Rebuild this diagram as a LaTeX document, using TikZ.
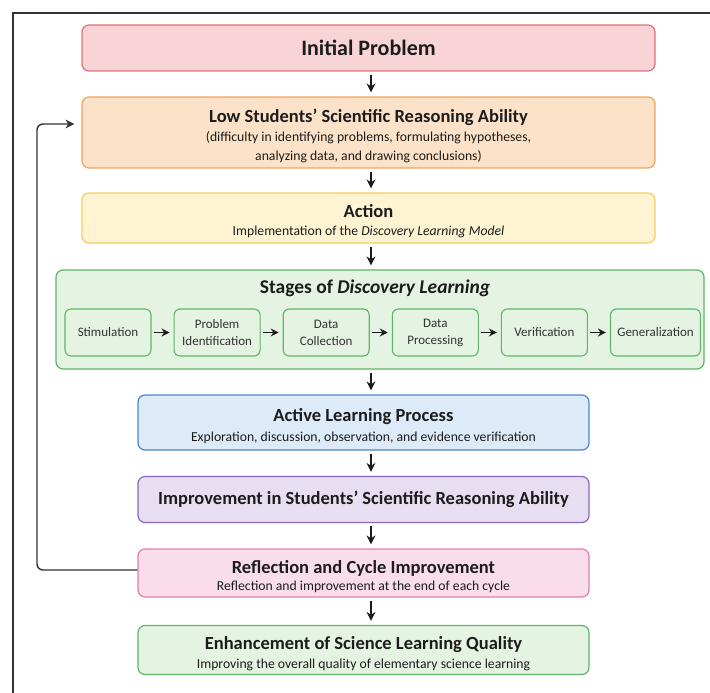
\documentclass[tikz,border=0pt]{standalone}
\usepackage{fontspec}
\setmainfont{Carlito}
\usetikzlibrary{arrows.meta, positioning}

\definecolor{inkdark}{HTML}{1C1C1C}
\definecolor{inksub}{HTML}{333333}
\definecolor{framegray}{HTML}{333333}
\definecolor{redfill}{HTML}{F9D4D7}
\definecolor{redline}{HTML}{E4707A}
\definecolor{orangefill}{HTML}{FCE2C8}
\definecolor{orangeline}{HTML}{F0A45C}
\definecolor{yellowfill}{HTML}{FEF4D2}
\definecolor{yellowline}{HTML}{F4CE5F}
\definecolor{greenfill}{HTML}{E5F3E2}
\definecolor{greenline}{HTML}{5FB666}
\definecolor{bluefill}{HTML}{DDEAF7}
\definecolor{blueline}{HTML}{4C86CB}
\definecolor{purplefill}{HTML}{E7DFF1}
\definecolor{purpleline}{HTML}{8967BF}
\definecolor{pinkfill}{HTML}{F9DDEB}
\definecolor{pinkline}{HTML}{E07EB0}

\newcommand{\boxtitle}{\fontsize{18.5}{18}\selectfont\bfseries\rule{0pt}{20pt}}
\newcommand{\boxsub}{\fontsize{13.7}{18}\selectfont\mdseries}
\newcommand{\stagetext}{\fontsize{13}{17}\selectfont}

\begin{document}
\begin{tikzpicture}[x=1pt, y=-1pt,
  box/.style={draw, rounded corners=7pt, line width=1.2pt, align=center,
    inner sep=0pt, text=inkdark, font=\fontsize{13.7}{18}\selectfont},
  stagebox/.style={draw=greenline, fill=greenfill, rounded corners=6pt,
    line width=1.1pt, align=center, inner sep=0pt, minimum width=86pt,
    minimum height=47pt, text=inksub, font=\stagetext},
  arr/.style={-{Stealth[length=9pt, width=9pt]}, line width=1.4pt,
    draw=inkdark, shorten <=3pt, shorten >=4pt},
  stagearr/.style={-{Stealth[length=8pt, width=8pt]}, line width=1.5pt,
    draw=inkdark, shorten <=2pt, shorten >=4pt}]

% Page and frame
\useasboundingbox[fill=white] (0,0) rectangle (710,693);
\draw[framegray, line width=1.5pt] (13,693) |- (710,13);

% Upper boxes
\node[box, fill=redfill, draw=redline, minimum width=573pt, minimum height=46pt]
  (init) at (368.5,48) {\fontsize{22}{24}\selectfont\bfseries Initial Problem};
\node[box, fill=orangefill, draw=orangeline, minimum width=573pt, minimum height=71pt]
  (low) at (368.5,132.5)
  {\boxtitle Low Students' Scientific Reasoning Ability\\[1pt]
   \boxsub (difficulty in identifying problems, formulating hypotheses,\\[1pt]
   \boxsub analyzing data, and drawing conclusions)};
\node[box, fill=yellowfill, draw=yellowline, minimum width=573pt, minimum height=50pt]
  (action) at (368.5,218)
  {\boxtitle Action\\
   \boxsub Implementation of the \textit{Discovery Learning Model}};

% Stages of Discovery Learning
\node[box, fill=greenfill, draw=greenline, minimum width=648pt, minimum height=99pt]
  (stages) at (380,319.5) {};
\node[text=inkdark, font=\fontsize{19.5}{22}\selectfont\bfseries] (stagestitle)
  at (375,288) {Stages of \textit{Discovery Learning}};
\node[stagebox] (stim) at (108,332.5) {Stimulation};
\node[stagebox, right=22pt of stim] (ident) {Problem\\Identification};
\node[stagebox, right=22pt of ident] (collect) {Data\\Collection};
\node[stagebox, right=22pt of collect] (process) {Data\\Processing};
\node[stagebox, right=22pt of process] (verif) {Verification};
\node[stagebox, minimum width=90pt, right=22pt of verif] (general) {Generalization};
\draw[stagearr] (stim) -- (ident);
\draw[stagearr] (ident) -- (collect);
\draw[stagearr] (collect) -- (process);
\draw[stagearr] (process) -- (verif);
\draw[stagearr] (verif) -- (general);

% Lower boxes
\node[box, fill=bluefill, draw=blueline, minimum width=451pt, minimum height=55pt]
  (active) at (363.5,422.5)
  {\boxtitle Active Learning Process\\[2pt]
   \boxsub Exploration, discussion, observation, and evidence verification};
\node[box, fill=purplefill, draw=purpleline, minimum width=451pt, minimum height=46pt]
  (improve) at (363.5,499.5)
  {\fontsize{18.5}{18}\selectfont\bfseries
   Improvement in Students' Scientific Reasoning Ability};
\node[box, fill=pinkfill, draw=pinkline, minimum width=451pt, minimum height=48pt]
  (reflect) at (363.5,573)
  {\boxtitle Reflection and Cycle Improvement\\[-1pt]
   \boxsub Reflection and improvement at the end of each cycle};
\node[box, fill=greenfill, draw=greenline, minimum width=451pt, minimum height=49pt]
  (enhance) at (363.5,650)
  {\boxtitle Enhancement of Science Learning Quality\\[1pt]
   \boxsub Improving the overall quality of elementary science learning};

% Main flow
\coordinate (ax) at (371,0);
\draw[arr] (init.south -| ax) -- (low.north -| ax);
\draw[arr] (low.south -| ax) -- (action.north -| ax);
\draw[arr] (action.south -| ax) -- (stages.north -| ax);
\draw[arr] (stages.south -| ax) -- (active.north -| ax);
\draw[arr] (active.south -| ax) -- (improve.north -| ax);
\draw[arr] (improve.south -| ax) -- (reflect.north -| ax);
\draw[arr] (reflect.south -| ax) -- (enhance.north -| ax);

% Feedback loop
\coordinate (fb) at (37,0);
\draw[arr, draw=framegray, rounded corners=6pt, shorten <=0pt, shorten >=7pt]
  ([yshift=3pt]reflect.west) -- ([yshift=3pt]reflect.west -| fb)
  |- ([yshift=8.5pt]low.west);

\end{tikzpicture}
\end{document}
